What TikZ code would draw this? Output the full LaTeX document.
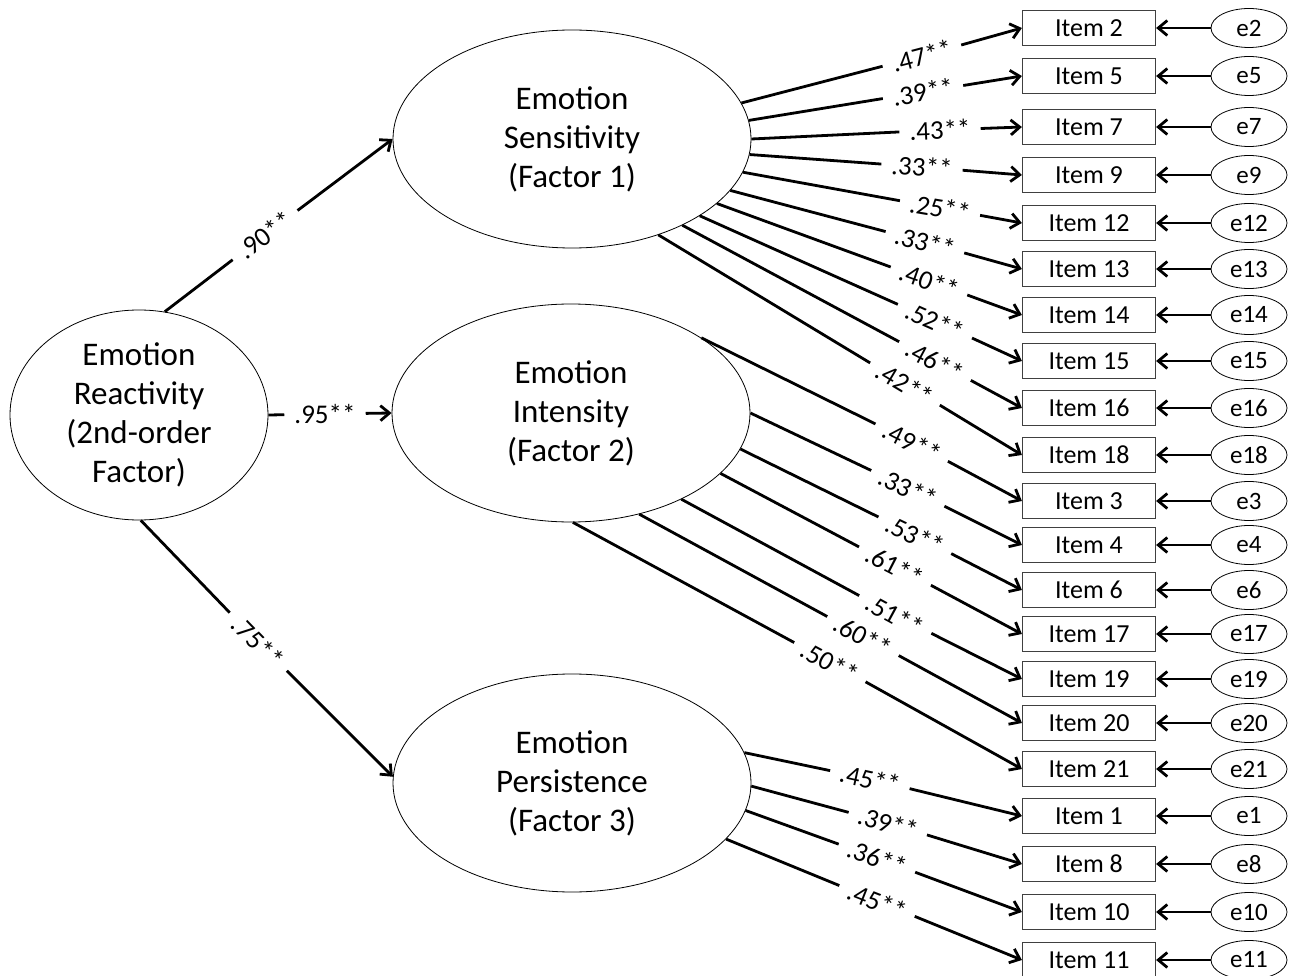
\documentclass[tikz,border=0pt]{standalone}
\usepackage{fontspec}
\setmainfont{Carlito}
\usetikzlibrary{arrows.meta,shapes.geometric}

\tikzset{
	factor/.style={ellipse, draw, line width=0.8pt, minimum width=358pt, minimum height=218pt, inner sep=0pt, align=center, font=\fontsize{33}{39}\selectfont},
	item/.style={draw=black!75, line width=1.2pt, minimum width=133pt, minimum height=35pt, inner sep=0pt, font=\fontsize{26}{30}\selectfont},
	err/.style={ellipse, draw, line width=0.8pt, minimum width=76pt, minimum height=39pt, inner sep=0pt, font=\fontsize{25}{28}\selectfont},
	load/.style={line width=2.8pt},
	arr/.style={load, -{Straight Barb[length=9pt,width=15pt]}},
	coef/.style={inner xsep=10pt, inner ysep=2pt, font=\fontsize{27}{30}\selectfont},
}

\begin{document}
\begin{tikzpicture}[x=1pt, y=-1pt]
	\useasboundingbox (0,0) rectangle (1294,976);
	% factors
	\node[factor, minimum width=258pt, minimum height=210pt] (react) at (139,415) {Emotion\\Reactivity\\(2nd-order\\Factor)};
	\node[factor] (sens) at (572,139) {Emotion\\Sensitivity\\(Factor 1)};
	\node[factor] (int) at (571,413) {Emotion\\Intensity\\(Factor 2)};
	\node[factor] (pers) at (572,783) {Emotion\\Persistence\\(Factor 3)};
	% items and errors
	\foreach \n/\y in {2/28,5/76,7/127,9/175,12/223,13/269,14/315,15/361,16/408,18/455,3/501,4/545,6/590,17/634,19/679,20/723,21/769,1/816,8/864,10/912,11/960}{
		\node[item] (i\n) at (1089,\y) {Item \n};
		\node[err] (e\n) at (1249,\y) {e\n};
		\draw[arr] (e\n) -- (i\n);
	}
	% second order loadings
	\node[coef, rotate=36.9] (c90) at (265,235) {.90**};
	\draw[load] (react.76.9) -- (c90);
	\draw[arr] (c90) -- (sens.west);
	\node[coef] (c95) at (325,414) {.95**};
	\draw[load] (react.east) -- (c95);
	\draw[arr] (c95) -- (int.west);
	\node[coef, rotate=-45.9] (c75) at (258,642) {.75**};
	\draw[load] (react.-89.5) -- (c75);
	\draw[arr] (c75) -- (pers.178);
	% factor 1
	\foreach \ang/\x/\y/\rot/\val/\n in {12.2/922/56/14.7/.47/2, 6.8/923/92/8.9/.39/5, 0.3/940/130/2.3/.43/7, -5.1/922/167/-3.8/.33/9, -11.9/940/208/-9.6/.25/12, -18.3/925/242/-14.7/.33/13, -24.5/929/281/-19.6/.40/14, -31.4/935/321/-24/.52/15, -38.4/935/361/-28.1/.46/16, -48.7/905/384/-30.8/.42/18}{
		\node[coef, rotate=\rot] (c\n) at (\x,\y) {\val**};
		\draw[load] (sens.\ang) -- (c\n);
		\draw[arr] (c\n) -- (i\n.west);
	}
	% factor 2
	\foreach \ang/\x/\y/\rot/\val/\n in {30.5/912/442/-26.4/.49/3, 0/908/488/-25.4/.33/4, -12.8/915/535/-25.5/.53/6, -22.6/895/566/-27.3/.61/17, -38.1/895/615/-28.5/.51/19, -56.4/863/636/-28.1/.60/20, -89/830/662/-28.5/.50/21}{
		\node[coef, rotate=\rot] (c\n) at (\x,\y) {\val**};
		\draw[load] (int.\ang) -- (c\n);
		\draw[arr] (c\n) -- (i\n.west);
	}
	% factor 3
	\foreach \ang/\x/\y/\rot/\val/\n in {10.2/870/779/-12.4/.45/1, -1/888/823/-16.7/.39/8, -9.4/877/858/-19.6/.36/10, -20.8/877/901/-21.6/.45/11}{
		\node[coef, rotate=\rot] (c\n) at (\x,\y) {\val**};
		\draw[load] (pers.\ang) -- (c\n);
		\draw[arr] (c\n) -- (i\n.west);
	}
\end{tikzpicture}
\end{document}
